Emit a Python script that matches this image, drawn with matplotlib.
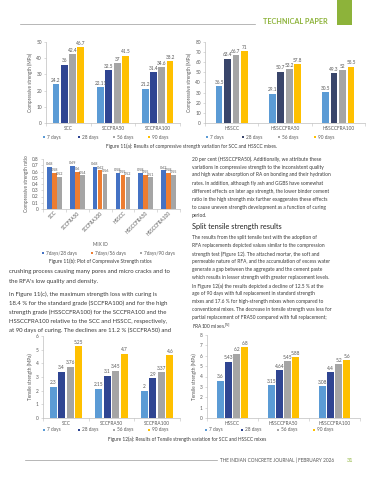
import numpy as np
import matplotlib
matplotlib.use("Agg")
import matplotlib.pyplot as plt
from matplotlib.patches import Rectangle
from matplotlib.lines import Line2D

plt.rcParams['font.family'] = ['Lato', 'DejaVu Sans']

# ---- data ----
ages = ["7 days", "28 days", "56 days", "90 days"]
mix_scc = ["SCC", "SCCFRA50", "SCCFRA100"]
mix_hs = ["HSSCC", "HSSCCFRA50", "HSSCCFRA100"]

# compressive strength (MPa), one row per age
comp_scc = [[24.2, 22.11, 21.2], [36, 32.5, 31.4], [42.4, 37, 34.6], [46.7, 41.5, 38.2]]
comp_hs = [[36.5, 29.1, 30.5], [63.4, 50.7, 49.3], [66.7, 53.2, 52], [71, 57.8, 55.5]]

# strength ratios
ratio_mix = ["SCC", "SCCFRA50", "SCCFRA100", "HSSCC", "HSSCCFRA50", "HSSCCFRA100"]
ratio_names = ["7days/28 days", "7days/56 days", "7days/90 days"]
ratio_28 = [0.68, 0.69, 0.68, 0.58, 0.58, 0.62]
ratio_56 = [0.58, 0.6, 0.62, 0.55, 0.55, 0.58]
ratio_90 = [0.52, 0.54, 0.56, 0.52, 0.51, 0.55]

# tensile strength (MPa)
tens_scc = [[2.3, 2.15, 2], [3.4, 3.1, 2.9], [3.76, 3.45, 3.37], [5.25, 4.7, 4.6]]
tens_hs = [[3.6, 3.15, 3.08], [5.43, 4.64, 4.4], [6.2, 5.45, 5.2], [6.8, 5.88, 5.6]]

age_cols = ["#5B9BD5", "#2F4592", "#A5A5A5", "#FFC000"]
age_cols_hs = ["#5B9BD5", "#39456A", "#A5A5A5", "#FFC000"]
ratio_cols = ["#4472C4", "#ED7D31", "#A5A5A5"]

W, H = 373, 480
fig = plt.figure(figsize=(W / 100, H / 100), dpi=100)
TXT = "#595959"
BODY = "#3a3a3a"
GREEN = "#8DB33A"


def ax_at(x0, y0, x1, y1):
    return fig.add_axes([x0 / W, 1 - y1 / H, (x1 - x0) / W, (y1 - y0) / H])


def ftext(x, y, s, **kw):
    fig.text(x / W, 1 - y / H, s, **kw)


def style(ax, cats, ymax, step, lab):
    ax.set_xlim(-0.5, len(cats) - 0.5)
    ax.set_ylim(0, ymax)
    ax.set_yticks(np.arange(0, ymax + step / 2, step))
    ax.set_xticks(range(len(cats)))
    ax.set_xticklabels(cats)
    ax.set_xticks(np.arange(-0.5, len(cats), 1), minor=True)
    ax.tick_params(axis='x', which='major', length=0, pad=2, labelsize=3.4, labelcolor=TXT)
    ax.tick_params(axis='x', which='minor', length=2, width=0.4, color="#BFBFBF")
    ax.tick_params(axis='y', length=1.5, width=0.4, color="#BFBFBF", pad=1.5, labelsize=3.4, labelcolor=TXT)
    for s in ["top", "right"]:
        ax.spines[s].set_visible(False)
    for s in ["left", "bottom"]:
        ax.spines[s].set_color("#BFBFBF")
        ax.spines[s].set_linewidth(0.5)
    ax.set_ylabel(lab, fontsize=3.4, color=TXT, labelpad=2)
    ax.patch.set_alpha(0)


def bars(ax, series, cols, width, pitch, off, fs=3.4):
    n = len(series)
    x = np.arange(len(series[0]))
    for i, (vals, c) in enumerate(zip(series, cols)):
        pos = x + (i - (n - 1) / 2) * pitch
        bb = ax.bar(pos, vals, width, color=c, linewidth=0)
        for b, v in zip(bb, vals):
            ax.text(b.get_x() + b.get_width() / 2, v + off, f"{v:g}", ha='center', va='bottom',
                    fontsize=fs, color=TXT)


def legend(x_start, y, names, cols, gap, fs=3.4):
    for i, (nm, c) in enumerate(zip(names, cols)):
        x = x_start + i * gap
        fig.patches.append(Rectangle((x / W, 1 - (y + 1.2) / H), 2.4 / W, 2.4 / H,
                                     transform=fig.transFigure, color=c, lw=0))
        ftext(x + 4, y, nm, fontsize=fs, color=TXT, va='center')


# ---- header ----
fig.lines.append(Line2D([20 / W, 255 / W], [1 - 24 / H, 1 - 24 / H], transform=fig.transFigure,
                        color="#9a9a9a", lw=0.5))
ftext(263, 21, "TECHNICAL PAPER", fontsize=5.2, color=GREEN, fontweight='bold', va='center')
fig.patches.append(Rectangle((337 / W, 1 - 25 / H), 15 / W, 25 / H, transform=fig.transFigure,
                             color=GREEN, lw=0))

# ---- Figure 11(a) ----
a1 = ax_at(46, 42, 180, 123)
bars(a1, comp_scc, age_cols, 0.15, 0.186, 0.8)
style(a1, mix_scc, 50, 10, "Compressive strength (MPa)")
legend(43, 137, ages, age_cols, 35)

a2 = ax_at(205, 42, 365, 123)
bars(a2, comp_hs, age_cols_hs, 0.125, 0.157, 1.3)
style(a2, mix_hs, 80, 10, "Compressive strength (MPa)")
legend(206, 137, ages, age_cols_hs, 36)

ftext(191, 146, "Figure 11(a): Results of compressive strength variation for SCC and HSSCC mixes.",
      fontsize=3.4, color=BODY, ha='center', va='center')

# ---- Figure 11(b) ----
a3 = ax_at(43, 159, 180, 209)
bars(a3, [ratio_28, ratio_56, ratio_90], ratio_cols, 0.2, 0.22, 0.01, fs=2.7)
style(a3, ratio_mix, 0.8, 0.1, "Compressive strength ratio")
a3.set_yticklabels([f"{v:g}" for v in np.arange(0, 0.85, 0.1).round(1)])
a3.tick_params(axis='x', which='major', pad=1)
for t in a3.get_xticklabels():
    t.set_rotation(45)
    t.set_ha('right')
    t.set_rotation_mode('anchor')
ftext(100, 245, "MIX ID", fontsize=3.4, color=TXT, ha='center', va='center')
legend(42, 253, ratio_names, ratio_cols, 49)
ftext(100, 261, "Figure 11(b): Plot of Compressive Strength ratios", fontsize=3.4, color=BODY,
      ha='center', va='center')

# ---- body text ----
left_lines = [
    (272, "crushing process causing many pores and micro cracks and to"),
    (281, "the RFA's low quality and density."),
    (294, "In Figure 11(c), the maximum strength loss with curing is"),
    (303, "18.4 % for the standard grade (SCCFRA100) and for the high"),
    (312, "strength grade (HSSCCFRA100) for the SCCFRA100 and the"),
    (321, "HSSCCFRA100 relative to the SCC and HSSCC, respectively,"),
    (330, "at 90 days of curing. The declines are 11.2 % (SCCFRA50) and"),
]
for y, s in left_lines:
    ftext(9, y, s, fontsize=4.3, color=BODY, va='center')

right_lines = [
    (159, "20 per cent (HSSCCFRA50). Additionally, we attribute these"),
    (167, "variations in compressive strength to the inconsistent quality"),
    (175, "and high water absorption of RA on bonding and their hydration"),
    (183, "rates. In addition, although fly ash and GGBS have somewhat"),
    (191, "different effects on later age strength, the lower binder cement"),
    (199, "ratio in the high strength mix further exaggerates these effects"),
    (207, "to cause uneven strength development as a function of curing"),
    (215, "period."),
    (238, "The results from the split tensile test with the adoption of"),
    (246, "RFA replacements depicted values similar to the compression"),
    (254, "strength test (Figure 12). The attached mortar, the soft and"),
    (262, "permeable nature of RFA, and the accumulation of excess water"),
    (270, "generate a gap between the aggregate and the cement paste"),
    (278, "which results in lesser strength with greater replacement levels."),
    (286, "In Figure 12(a) the results depicted a decline of 12.5 % at the"),
    (294, "age of 90 days with full replacement in standard strength"),
    (302, "mixes and 17.6 % for high-strength mixes when compared to"),
    (310, "conventional mixes. The decrease in tensile strength was less for"),
    (318, "partial replacement of FRA50 compared with full replacement;"),
    (326, "FRA100 mixes.$^{[5]}$"),
]
for y, s in right_lines:
    ftext(192, y, s, fontsize=3.55, color=BODY, va='center')
ftext(192, 227, "Split tensile strength results", fontsize=5.3, color="#222222", va='center')

# ---- Figure 12(a) ----
a4 = ax_at(43, 336, 180, 418)
bars(a4, tens_scc, age_cols, 0.15, 0.186, 0.1)
style(a4, mix_scc, 6, 1, "Tensile strength (MPa)")
legend(43, 430, ages, age_cols, 35)

a5 = ax_at(207, 335, 360, 418)
bars(a5, tens_hs, age_cols, 0.13, 0.16, 0.12)
style(a5, mix_hs, 8, 1, "Tensile strength (MPa)")
legend(205, 430, ages, age_cols, 36)

ftext(187, 439, "Figure 12(a): Results of Tensile strength variation for SCC and HSSCC mixes",
      fontsize=3.4, color=BODY, ha='center', va='center')

# ---- footer ----
fig.lines.append(Line2D([25 / W, 217 / W], [1 - 460 / H, 1 - 460 / H], transform=fig.transFigure,
                        color="#9a9a9a", lw=0.5))
ftext(220, 460, "THE INDIAN CONCRETE JOURNAL | FEBRUARY 2026", fontsize=3.4, color="#555555",
      va='center')
ftext(347, 460, "31", fontsize=4, color=GREEN, va='center')

fig.savefig("out.png", dpi=100)
